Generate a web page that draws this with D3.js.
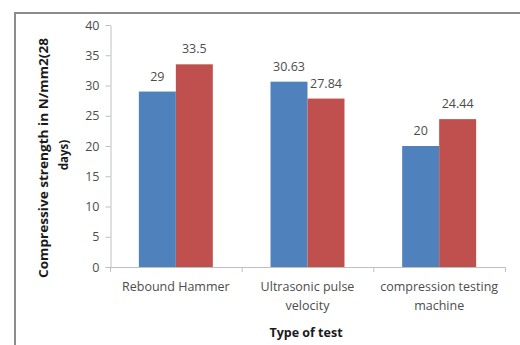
<!DOCTYPE html>
<html><head><meta charset="utf-8">
<script src="https://cdn.jsdelivr.net/npm/d3@7/dist/d3.min.js"></script>
<style>body{margin:0;background:#fff}svg{display:block}</style>
</head><body>
<svg id="chart" width="520" height="345"></svg>
<script>
const categories = ["Rebound Hammer", "Ultrasonic pulse velocity", "compression testing machine"];
const categoryLines = [["Rebound Hammer"], ["Ultrasonic pulse", "velocity"], ["compression testing", "machine"]];
const seriesA = [29, 30.63, 20];
const seriesB = [33.5, 27.84, 24.44];
const valueLabelsA = ["29", "30.63", "20"];
const valueLabelsB = ["33.5", "27.84", "24.44"];
const yTicks = [0, 5, 10, 15, 20, 25, 30, 35, 40];
const seriesColors = ["#4F81BD", "#C0504D"];
const yTitleLines = ["Compressive strength in N/mm2(28", "days)"];
const xTitle = "Type of test";

const svg = d3.select("#chart");
const font = "'Open Sans', Lato, sans-serif";
const textGray = "#4d4d4d";
const fs = "12.5px";

// frame
svg.append("path").attr("d", "M15,346 L15,13 L521,13")
  .attr("fill", "none").attr("stroke", "#8c8c8c").attr("stroke-width", 2);

const x = d3.scaleBand().domain(categories).range([110, 505]).paddingInner(0).paddingOuter(0);
const x1 = d3.scaleBand().domain([0, 1]).range([0, x.bandwidth()]).paddingInner(0).paddingOuter(0.78);
const y = d3.scaleLinear().domain([0, 40]).range([267, 25]);

// y axis
const yAxis = svg.append("g").attr("transform", "translate(110.5,0)")
  .call(d3.axisLeft(y).tickValues(yTicks).tickSize(5).tickSizeOuter(0).tickPadding(6));
yAxis.select(".domain").attr("stroke", "#bfbfbf");
yAxis.selectAll(".tick line").attr("stroke", "#bfbfbf");
yAxis.selectAll(".tick text").attr("fill", textGray).style("font-family", font).style("font-size", fs);

// x axis
const xg = svg.append("g");
xg.append("line").attr("x1", 110).attr("x2", x.range()[1]).attr("y1", 267.5).attr("y2", 267.5).attr("stroke", "#bfbfbf");
const bounds = categories.map(c => x(c)).concat([x.range()[1]]);
xg.selectAll("line.tk").data(bounds).join("line").attr("class", "tk")
  .attr("x1", d => d + 0.5).attr("x2", d => d + 0.5).attr("y1", 267).attr("y2", 272).attr("stroke", "#bfbfbf");

// bars
const series = [seriesA, seriesB];
const labels = [valueLabelsA, valueLabelsB];
series.forEach((vals, si) => {
  svg.append("g").selectAll("rect").data(vals).join("rect")
    .attr("x", (d, i) => x(categories[i]) + x1(si))
    .attr("y", d => y(d))
    .attr("width", x1.bandwidth())
    .attr("height", d => y(0) - y(d))
    .attr("fill", seriesColors[si]);
  svg.append("g").selectAll("text").data(vals).join("text")
    .attr("x", (d, i) => x(categories[i]) + x1(si) + x1.bandwidth() / 2)
    .attr("y", d => y(d) - 11)
    .attr("text-anchor", "middle")
    .attr("fill", textGray)
    .style("font-family", font).style("font-size", fs)
    .text((d, i) => labels[si][i]);
});

// category labels
categoryLines.forEach((lines, i) => {
  lines.forEach((ln, j) => {
    svg.append("text")
      .attr("x", x(categories[i]) + x.bandwidth() / 2)
      .attr("y", 291 + j * 19)
      .attr("text-anchor", "middle")
      .attr("fill", textGray)
      .style("font-family", font).style("font-size", fs)
      .text(ln);
  });
});

// x title
svg.append("text").attr("x", 306).attr("y", 337).attr("text-anchor", "middle")
  .attr("fill", "#1a1a1a").style("font-family", font).style("font-size", fs).style("font-weight", "bold")
  .text(xTitle);

// y title
yTitleLines.forEach((ln, j) => {
  const t = svg.append("text")
    .attr("transform", `translate(${48 + j * 20},${j === 0 ? 158 : 155}) rotate(-90)`)
    .attr("text-anchor", "middle")
    .attr("fill", "#1a1a1a")
    .style("font-family", font).style("font-size", "11.5px").style("font-weight", "bold")
    .text(ln);
  if (j === 0) t.attr("textLength", 240).attr("lengthAdjust", "spacingAndGlyphs");
});
</script>
</body></html>
